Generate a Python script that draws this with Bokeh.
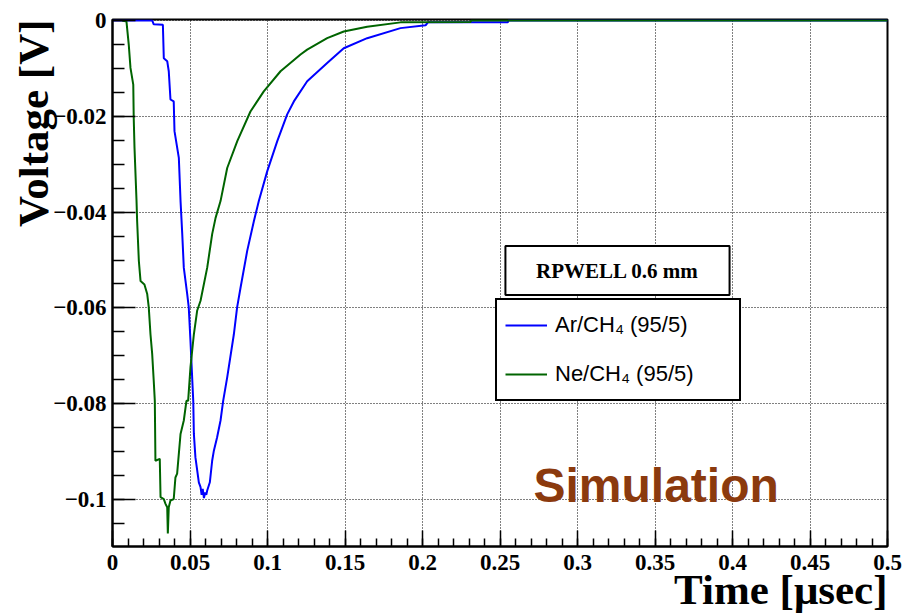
import numpy as np
from bokeh.plotting import figure
from bokeh.models import (Range1d, FixedTicker, Legend, LegendItem, Label, Title,
                          BoxAnnotation, ColumnDataSource)
from bokeh.embed import file_html
from bokeh.resources import INLINE

# ---------------- data ----------------
ar_t = [0.0, 0.0256, 0.0266, 0.0325, 0.0331, 0.0353, 0.0363, 0.0374, 0.0395, 0.0400,
        0.0428, 0.0439, 0.0450, 0.0460, 0.0482, 0.0492, 0.0503, 0.0521, 0.0525, 0.0535,
        0.0557, 0.0568, 0.0575, 0.0582, 0.0590, 0.0598, 0.0605, 0.0611, 0.0628, 0.0643,
        0.0654, 0.0675, 0.0697, 0.0714, 0.0740, 0.0783, 0.0804, 0.0826, 0.0869, 0.0912,
        0.0944, 0.0998, 0.1063, 0.1127, 0.1170, 0.1256, 0.1385, 0.1492, 0.1643, 0.1858,
        0.2020, 0.2035, 0.2550, 0.2555, 0.5]
ar_v = [0.0, 0.0, -0.0008, -0.0009, -0.0079, -0.0085, -0.0106, -0.0165, -0.0169, -0.0231,
        -0.0287, -0.0377, -0.0446, -0.0516, -0.0571, -0.0599, -0.0669, -0.0794, -0.0863, -0.0912,
        -0.0964, -0.0974, -0.0990, -0.0978, -0.0997, -0.0985, -0.0990, -0.0981, -0.0964, -0.0919,
        -0.0898, -0.0870, -0.0835, -0.0794, -0.0745, -0.0655, -0.0599, -0.0558, -0.0481, -0.0419,
        -0.0377, -0.0315, -0.0252, -0.0196, -0.0169, -0.0127, -0.0089, -0.0058, -0.0037, -0.0016,
        -0.0010, -0.0004, -0.0004, 0.0, 0.0]

ne_t = [0.0063, 0.0090, 0.0105, 0.0116, 0.0134, 0.0137, 0.0142, 0.0155, 0.0159, 0.0170,
        0.0181, 0.0206, 0.0224, 0.0234, 0.0245, 0.0256, 0.0266, 0.0273, 0.0277, 0.0305,
        0.0310, 0.0331, 0.0342, 0.0353, 0.0357, 0.0363, 0.0374, 0.0395, 0.0406, 0.0417,
        0.0439, 0.0460, 0.0477, 0.0488, 0.0503, 0.0525, 0.0546, 0.0568, 0.0611, 0.0643,
        0.0665, 0.0697, 0.0740, 0.0805, 0.0890, 0.0976, 0.1084, 0.1213, 0.1256, 0.1385,
        0.1492, 0.1643, 0.1858, 0.2310, 0.2315, 0.5]
ne_v = [0.0, -0.0002, -0.0051, -0.0099, -0.0134, -0.0204, -0.0266, -0.0377, -0.0419, -0.0502,
        -0.0544, -0.0551, -0.0571, -0.0599, -0.0655, -0.0696, -0.0752, -0.0794, -0.0919, -0.0915,
        -0.0995, -0.0999, -0.1009, -0.1016, -0.1071, -0.1016, -0.1002, -0.0999, -0.0954, -0.0946,
        -0.0863, -0.0835, -0.0794, -0.0794, -0.0724, -0.0655, -0.0606, -0.0585, -0.0516, -0.0446,
        -0.0412, -0.0377, -0.0308, -0.0252, -0.0190, -0.0148, -0.0106, -0.0071, -0.0061, -0.0037,
        -0.0023, -0.0013, -0.0004, -0.0003, 0.0, 0.0]

series_names = ["Ar/CH\u2084 (95/5)", "Ne/CH\u2084 (95/5)"]

x_ticks = [0.0, 0.05, 0.1, 0.15, 0.2, 0.25, 0.3, 0.35, 0.4, 0.45, 0.5]
x_tick_labels = ["0", "0.05", "0.1", "0.15", "0.2", "0.25", "0.3", "0.35", "0.4", "0.45", "0.5"]
y_ticks = [0.0, -0.02, -0.04, -0.06, -0.08, -0.1]
y_tick_labels = ["0", "\u22120.02", "\u22120.04", "\u22120.06", "\u22120.08", "\u22120.1"]

# ---------------- figure ----------------
p = figure(width=907, height=613, output_backend="svg", toolbar_location=None,
           x_range=Range1d(0, 0.5), y_range=Range1d(-0.1098, 0.0002),
           min_border_left=112, min_border_right=20, min_border_top=19, min_border_bottom=67,
           background_fill_color="white", border_fill_color="white")

p.outline_line_color = "black"
p.outline_line_width = 2
p.outline_line_alpha = 1

x_minor = [round(v, 3) for v in np.arange(0, 0.5001, 0.01)]
y_minor = [round(v, 4) for v in np.arange(-0.11, 0.00001, 0.005)]
p.xaxis.ticker = FixedTicker(ticks=x_ticks, minor_ticks=x_minor)
p.yaxis.ticker = FixedTicker(ticks=y_ticks, minor_ticks=y_minor)
p.xaxis.major_label_overrides = dict(zip(x_ticks, x_tick_labels))
p.yaxis.major_label_overrides = dict(zip(y_ticks, y_tick_labels))

for ax, major_len, minor_len, standoff in ((p.xaxis, 16, 8, 8), (p.yaxis, 23, 12, 6)):
    ax.axis_line_color = "black"
    ax.axis_line_width = 2
    ax.major_tick_line_color = "black"
    ax.minor_tick_line_color = "black"
    ax.major_tick_line_width = 1.5
    ax.minor_tick_line_width = 1.5
    ax.major_tick_in = major_len
    ax.major_tick_out = 0
    ax.minor_tick_in = minor_len
    ax.minor_tick_out = 0
    ax.major_label_text_font = "Liberation Serif"
    ax.major_label_text_font_style = "bold"
    ax.major_label_text_font_size = "23px"
    ax.major_label_text_color = "black"
    ax.major_label_standoff = standoff

for g in (p.xgrid, p.ygrid):
    g.grid_line_color = "black"
    g.grid_line_width = 1
    g.grid_line_dash = "1 2"
    g.grid_line_alpha = 1

src_ar = ColumnDataSource(dict(t=ar_t, v=ar_v))
src_ne = ColumnDataSource(dict(t=ne_t, v=ne_v))
r_ar = p.line("t", "v", source=src_ar, line_color="#0000FF", line_width=2)
r_ne = p.line("t", "v", source=src_ne, line_color="#006400", line_width=2)

# title box
box = BoxAnnotation(left=0.2535, right=0.3981, top=-0.0471, bottom=-0.0573,
                    fill_color="white", fill_alpha=1, line_color="black",
                    line_alpha=1, line_width=2)
p.add_layout(box)
p.add_layout(Label(x=0.3258, y=-0.0522, text="RPWELL 0.6 mm", text_align="center",
                   text_baseline="middle", text_font="Liberation Serif", text_font_style="bold",
                   text_font_size="21px", text_color="black"))

legend = Legend(items=[LegendItem(label=series_names[0], renderers=[r_ar]),
                       LegendItem(label=series_names[1], renderers=[r_ne])],
                location=(383, 145), margin=0, padding=8, spacing=15,
                label_height=34, glyph_height=34, glyph_width=42, label_standoff=8,
                label_width=176, border_line_color="black", border_line_width=2,
                border_line_alpha=1,
                background_fill_color="white", background_fill_alpha=1,
                label_text_font="Liberation Sans", label_text_font_size="22px",
                label_text_color="black")
p.add_layout(legend)

p.add_layout(Label(x=0.2716, y=-0.0971, text="Simulation", text_font="Liberation Sans",
                   text_font_style="bold", text_font_size="48px", text_color="#8B3A0E",
                   text_baseline="middle"))

# axis titles (ROOT style: at the far ends of the axes)
p.add_layout(Title(text="Voltage [V]", align="right", vertical_align="middle",
                   standoff=-14, offset=0, text_font="Liberation Serif",
                   text_font_style="bold", text_font_size="43px", text_color="black"), "left")
p.add_layout(Title(text="Time [\u03bcsec]", align="right", vertical_align="middle",
                   standoff=-16, offset=0, text_font="Liberation Serif",
                   text_font_style="bold", text_font_size="43px", text_color="black"), "below")

open("out.html", "w").write(file_html(p, INLINE))
